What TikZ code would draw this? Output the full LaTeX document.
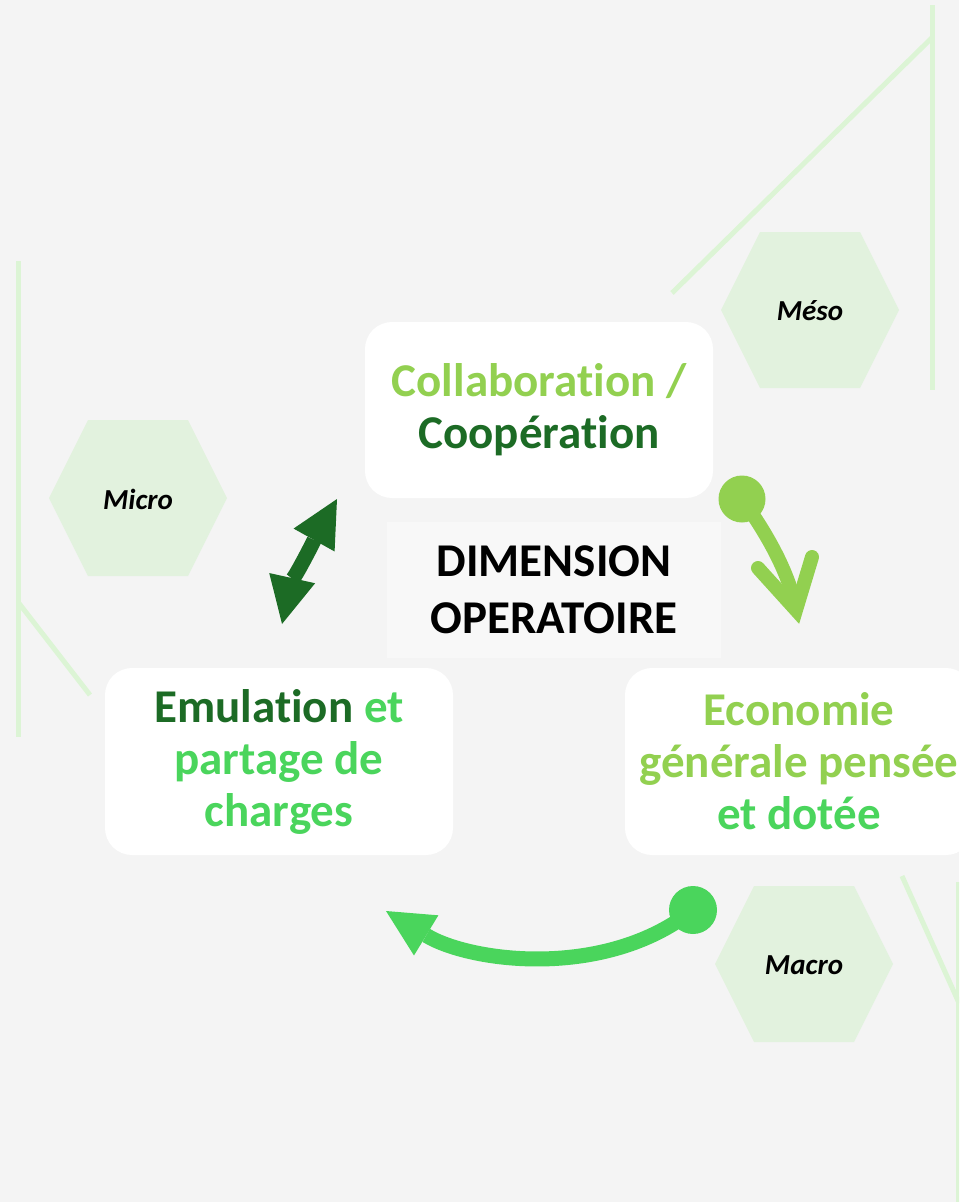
\documentclass[tikz,border=0pt]{standalone}
\usepackage{fontspec}
\setmainfont{Carlito}[Ligatures=NoCommon]
\usetikzlibrary{arrows.meta}
\definecolor{bg}{HTML}{F4F4F4}
\definecolor{lime}{HTML}{92D050}
\definecolor{grn}{HTML}{4AD55C}
\definecolor{dkg}{HTML}{1C6B25}
\definecolor{hexfill}{HTML}{E2F2DE}
\definecolor{deco}{HTML}{DCF4D5}
\definecolor{centerbg}{HTML}{F8F8F8}
\newcommand\hexfillat[2]{\fill[hexfill] (#1,#2) ++(-89,0) -- ++(39,-78) -- ++(100,0) -- ++(39,78) -- ++(-39,78) -- ++(-100,0) -- cycle;}
\begin{document}
\begin{tikzpicture}[x=1pt,y=-1pt,
  bigtext/.style={font=\fontsize{47}{52}\selectfont\bfseries},
  box/.style={bigtext, fill=white, rounded corners=27pt, minimum width=348pt, minimum height=#1, inner sep=0pt, align=center},
  hextext/.style={font=\fontsize{29}{30}\selectfont\bfseries\itshape, text=black, inner sep=0pt},
  decoline/.style={deco, line width=5pt},
  dbl/.style={dkg, line width=15pt, {Triangle[length=47pt,width=47pt,line width=0pt]}-{Triangle[length=47pt,width=47pt,line width=0pt]}},
  garrow/.style={grn, line width=15pt, -{Triangle[length=47pt,width=47pt,line width=0pt]}},
  larrow/.style={lime, line width=14pt},
  dot/.style={circle, inner sep=0pt, minimum size=#1}
]
\useasboundingbox (0,0) rectangle (959,1202);
\fill[bg] (0,0) rectangle (959,1202);
\clip (0,0) rectangle (959,1202);

% decorative lines
\draw[decoline] (932.7,5) -- (932.7,390);
\draw[decoline] (932.7,37) -- (672,293);
\draw[decoline] (18,261) -- (18,737);
\draw[decoline] (18,602) -- (90,695);
\draw[decoline] (958,882) -- (958,1210);
\draw[decoline] (902,876) -- (959,1003);

% hexagons
\hexfillat{810}{310}
\hexfillat{138}{498}
\hexfillat{804}{964}
\node[hextext] (meso) at (810,311) {Méso};
\node[hextext] (micro) at (138,499) {Micro};
\node[hextext] (macro) at (804,965) {Macro};

% boxes
\node[box=176pt] (collab) at (539,410) {{\color{lime}Collaboration /}\\{\color{dkg}Coopération}};
\node[bigtext, fill=centerbg, minimum width=334pt, minimum height=136pt, inner sep=0pt, align=center, text=black, font=\fontsize{47}{57}\selectfont\bfseries] (dim) at (554,590) {DIMENSION\\OPERATOIRE};
\node[box=187pt] (emul) at (279,761.5) {{\color{dkg}Emulation} {\color{grn}et}\\{\color{grn}partage de}\\{\color{grn}charges}};
\node[box=187pt] (eco) at (799,761.5) {{\color{lime}Economie}\\{\color{lime}générale pensée}\\{\color{grn}et dotée}};

% double arrow
\coordinate (dblB) at (282,624);
\coordinate (dblT) at (337,499);
\draw[dbl] (dblB) .. controls (290,588) and (318,533) .. (dblT);

% lime arrow
\node[dot=47pt, fill=lime] (ldot) at (742,499) {};
\coordinate (lv) at (796,610);
\coordinate (la) at (758,568);
\coordinate (lb) at (812,557);
\draw[larrow] (ldot.center) .. controls (768,535) and (790,575) .. (lv);
\draw[larrow, line cap=round, line join=miter] (la) -- (lv) -- (lb);

% green arrow
\node[dot=48pt, fill=grn] (gdot) at (693,910) {};
\coordinate (gtip) at (386,911);
\draw[garrow] (gdot.center) .. controls (605,980) and (470,962) .. (gtip);
\end{tikzpicture}
\end{document}
